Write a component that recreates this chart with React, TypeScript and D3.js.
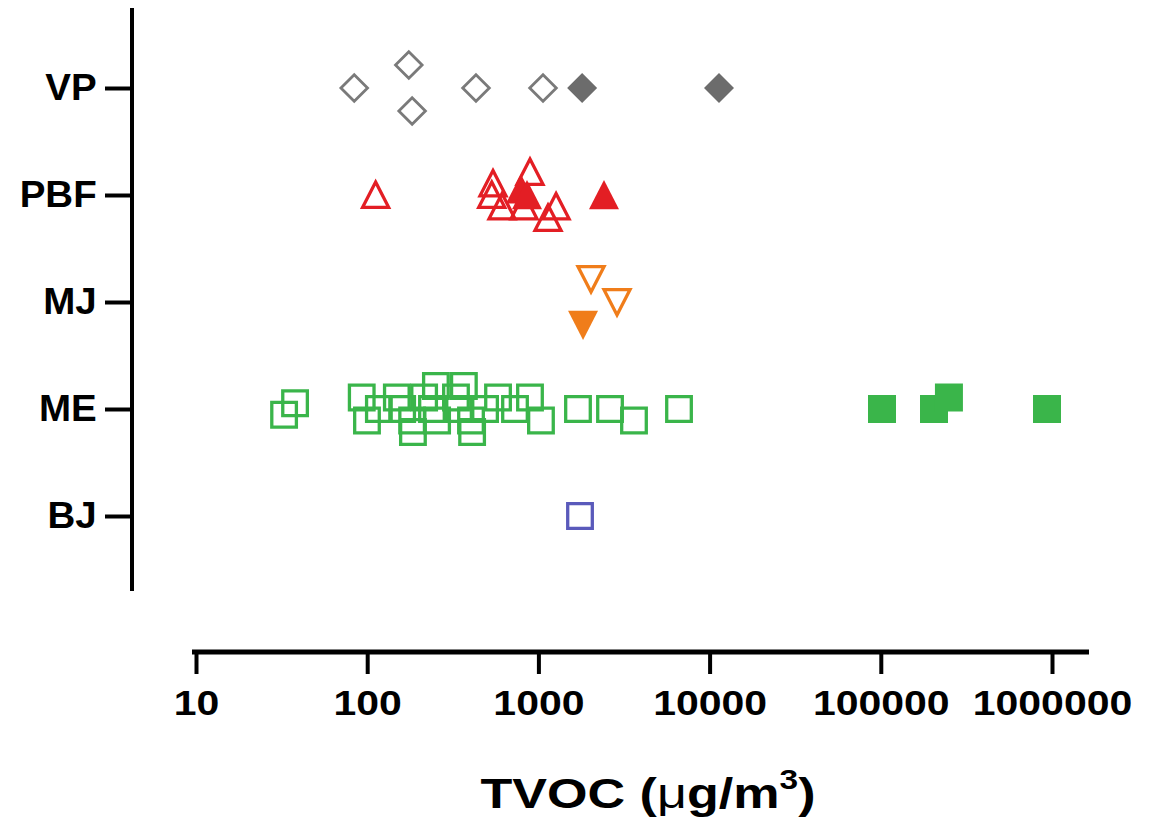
import React, { useEffect, useRef } from 'react';
import * as d3 from 'd3';

const categories = ['VP', 'PBF', 'MJ', 'ME', 'BJ'];
const xTicks = [10, 100, 1000, 10000, 100000, 1000000];

// slots = vertical scatter of a point inside its row (in jitter steps)
const vpOpenValues = [84, 175, 183, 432, 1064];
const vpOpenSlots = [0, -2, 2, 0, 0];
const vpFilledValues = [1800, 11350];
const vpFilledSlots = [0, 0];

const pbfOpenValues = [112, 543, 534, 613, 893, 824, 1268, 1138];
const pbfOpenSlots = [0, -1, 0, 1, -2, 1, 1, 2];
const pbfFilledValues = [791, 858, 2416];
const pbfFilledSlots = [-0.5, 0, 0];

const mjOpenValues = [2029, 2878];
const mjOpenSlots = [-2, 0];
const mjFilledValues = [1823];
const mjFilledSlots = [2];

const meOpenValues = [
  32.7, 37.9, 92.9, 99.7, 117, 149, 160, 183, 185, 215, 252, 256, 239, 330,
  367, 344, 404, 410, 488, 581, 730, 893, 1035, 1703, 2620, 3617, 6627,
];
const meOpenSlots = [
  0.5, -0.5, -1, 1, 0, -1, 0, 1, 2, -1, -2, 1, 0, -1, -2, 0, 1, 2, 0, -1, 0, -1,
  1, 0, 0, 1, 0,
];
const meFilledValues = [101600, 204600, 250000, 935000];
const meFilledSlots = [0, 0, -1, 0];

const bjOpenValues = [1750];
const bjOpenSlots = [0];

const GRAY = '#7a7a7a';
const DARKGRAY = '#6c6c6c';
const RED = '#e31e24';
const ORANGE = '#f07d1a';
const GREEN = '#3ab54a';
const BLUE = '#5a5abb';

type Shape = 'diamond' | 'up' | 'down' | 'square';

const series = [
  { cat: 'VP', shape: 'diamond', color: GRAY, filled: false, values: vpOpenValues, slots: vpOpenSlots },
  { cat: 'VP', shape: 'diamond', color: DARKGRAY, filled: true, values: vpFilledValues, slots: vpFilledSlots },
  { cat: 'PBF', shape: 'up', color: RED, filled: false, values: pbfOpenValues, slots: pbfOpenSlots },
  { cat: 'PBF', shape: 'up', color: RED, filled: true, values: pbfFilledValues, slots: pbfFilledSlots },
  { cat: 'MJ', shape: 'down', color: ORANGE, filled: false, values: mjOpenValues, slots: mjOpenSlots },
  { cat: 'MJ', shape: 'down', color: ORANGE, filled: true, values: mjFilledValues, slots: mjFilledSlots },
  { cat: 'ME', shape: 'square', color: GREEN, filled: false, values: meOpenValues, slots: meOpenSlots },
  { cat: 'ME', shape: 'square', color: GREEN, filled: true, values: meFilledValues, slots: meFilledSlots },
  { cat: 'BJ', shape: 'square', color: BLUE, filled: false, values: bjOpenValues, slots: bjOpenSlots },
];

function shapePath(shape: Shape, filled: boolean) {
  const p = d3.path();
  if (shape === 'diamond') {
    const r = filled ? 15 : 13.3;
    p.moveTo(0, -r); p.lineTo(r, 0); p.lineTo(0, r); p.lineTo(-r, 0);
  } else if (shape === 'up') {
    const h = filled ? 15 : 13;
    p.moveTo(0, -h); p.lineTo(h, h * 0.95); p.lineTo(-h, h * 0.95);
  } else if (shape === 'down') {
    const h = filled ? 15 : 13;
    p.moveTo(0, h); p.lineTo(h, -h * 0.95); p.lineTo(-h, -h * 0.95);
  } else {
    const s = filled ? 14 : 12.3;
    p.rect(-s, -s, 2 * s, 2 * s);
  }
  p.closePath();
  return p.toString();
}

const W = 1154, H = 835;
const SX = 1.17; // the figure's lettering is horizontally stretched

export default function App() {
  const ref = useRef<SVGSVGElement>(null);

  useEffect(() => {
    const svg = d3.select(ref.current);
    svg.selectAll('*').remove();

    const x = d3.scaleLog().domain([10, 1000000]).range([196, 1052]);
    const y = d3.scalePoint<string>().domain(categories).range([88, 516]);
    const axisLeftX = 132, axisBottomY = 652;
    const slotPx = 11.5;

    // y axis
    svg.append('line')
      .attr('x1', axisLeftX).attr('x2', axisLeftX)
      .attr('y1', 8).attr('y2', 591)
      .attr('stroke', '#000').attr('stroke-width', 4);
    const gy = svg.append('g')
      .attr('transform', `translate(${axisLeftX},0)`)
      .call(d3.axisLeft(y).tickSize(27).tickPadding(6));
    gy.select('.domain').remove();
    gy.selectAll('line').attr('stroke', '#000').attr('stroke-width', 4);
    gy.selectAll('text')
      .attr('transform', 'scale(1.07,1)')
      .attr('font-size', 36).attr('font-weight', 'bold')
      .attr('font-family', 'Arial, "Liberation Sans", sans-serif')
      .attr('fill', '#000');

    // x axis
    svg.append('line')
      .attr('x1', 192).attr('x2', 1089)
      .attr('y1', axisBottomY).attr('y2', axisBottomY)
      .attr('stroke', '#000').attr('stroke-width', 5);
    const gx = svg.append('g')
      .attr('transform', `translate(0,${axisBottomY})`)
      .call(d3.axisBottom(x).tickValues(xTicks).tickFormat(d3.format('d')).tickSize(22).tickPadding(16));
    gx.select('.domain').remove();
    gx.selectAll('line').attr('stroke', '#000').attr('stroke-width', 4);
    gx.selectAll('text')
      .attr('transform', `scale(${SX},1)`)
      .attr('font-size', 35).attr('font-weight', 'bold')
      .attr('font-family', 'Arial, "Liberation Sans", sans-serif')
      .attr('fill', '#000');

    // title
    const title = svg.append('text')
      .attr('transform', 'translate(648,808) scale(1.24,1)')
      .attr('text-anchor', 'middle')
      .attr('font-size', 42).attr('font-weight', 'bold')
      .attr('font-family', 'Arial, "Liberation Sans", sans-serif');
    title.append('tspan').text('TVOC (');
    title.append('tspan').attr('font-weight', 'normal').text('μ');
    title.append('tspan').text('g/m');
    title.append('tspan').attr('font-size', 27).attr('dy', -19).text('3');
    title.append('tspan').attr('dy', 19).text(')');

    // points
    series.forEach(s => {
      const pts = s.values.map((v, i) => ({ v, slot: s.slots[i] }));
      svg.append('g').selectAll('path')
        .data(pts).enter()
        .append('path')
        .attr('d', shapePath(s.shape as Shape, s.filled))
        .attr('transform', d => `translate(${x(d.v)},${(y(s.cat) as number) + d.slot * slotPx})`)
        .attr('fill', s.filled ? s.color : 'none')
        .attr('stroke', s.filled ? 'none' : s.color)
        .attr('stroke-linejoin', 'miter')
        .attr('stroke-width', s.shape === 'diamond' ? 2.8 : 3.3);
    });
  }, []);

  return (
    <svg ref={ref} width={W} height={H}
      style={{ position: 'absolute', left: 0, top: 0, background: '#fff' }} />
  );
}
